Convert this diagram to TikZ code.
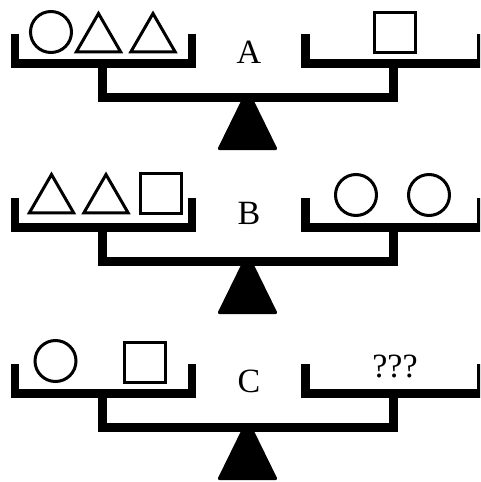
\documentclass[tikz,border=0pt]{standalone}
\usepackage{fontspec}
\setmainfont{Liberation Serif}
\usetikzlibrary{positioning, shapes.geometric}

\begin{document}
\begin{tikzpicture}[x = 1pt, y = -1pt,
    pan/.style = { line width = 8.5pt, line join = miter },
    ring/.style = { draw, circle, line width = 3pt, minimum size = 41pt, inner sep = 0pt },
    tri/.style = { draw, regular polygon, regular polygon sides = 3, line width = 3pt, minimum size = 51pt, inner sep = 0pt },
    box/.style = { draw, rectangle, line width = 3pt, minimum width = 41pt, minimum height = 40pt, inner sep = 0pt },
    tag/.style = { font = \fontsize{34}{34}\selectfont, anchor = base, inner sep = 0pt }]
    \useasboundingbox (0,0) rectangle (480,482);
    \clip (0,0) rectangle (480,482);

    % the three balances
    \foreach \d/\lbl/\base in {0/A/63, 164/B/224, 330/C/392} {
      \fill[rounded corners = 2.5pt] (243, 97+\d) -- (252, 97+\d) -- (278, 150+\d) -- (217, 150+\d) -- cycle;
      \draw[pan] (15, 34+\d) |- (192, 63.5+\d) -- (192, 34+\d);
      \draw[pan] (305.5, 34+\d) |- (481, 63.5+\d) -- (481, 34+\d);
      \draw[pan] (102.5, 63.5+\d) |- (393.5, 97.5+\d) -- (393.5, 63.5+\d);
      \node[tag] (lbl\lbl) at (249, \base) {\lbl};
    }

    % A
    \node[ring] (circA) at (51, 32) {};
    \node[tri] (triA1) at (98.5, 39) {};
    \node[tri] (triA2) at (153, 39) {};
    \node[box] (boxA) at (395, 32.5) {};

    % B
    \node[tri] (triB1) at (51.5, 200) {};
    \node[tri] (triB2) at (106, 200) {};
    \node[box] (boxB) at (161, 193.5) {};
    \node[ring] (circB1) at (356, 195) {};
    \node[ring] (circB2) at (429, 195) {};

    % C
    \node[ring] (circC) at (55.5, 361) {};
    \node[box] (boxC) at (145, 362) {};
    \node[tag] (query) at (395, 377) {???};
\end{tikzpicture}
\end{document}
